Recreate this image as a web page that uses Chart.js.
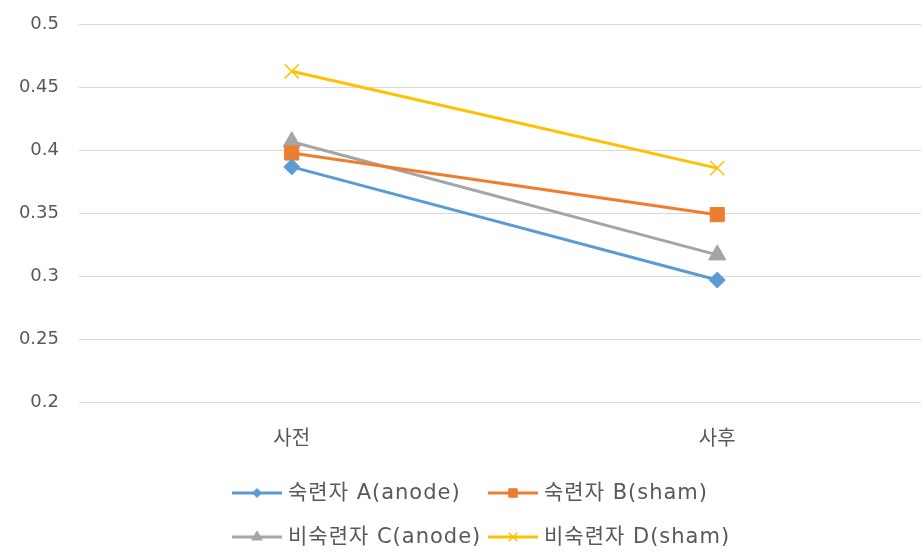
<!DOCTYPE html>
<html>
<head>
<meta charset="utf-8">
<script src="https://cdn.jsdelivr.net/npm/chart.js@4.4.0/dist/chart.umd.min.js"></script>
<style>
  html, body { margin: 0; padding: 0; background: #fff; overflow: hidden; }
  #wrap { width: 930px; height: 559px; margin-top: -6px; }
</style>
</head>
<body>
<div id="wrap"><canvas id="chart"></canvas></div>
<script>
// 측정 시점
const categories = ["사전", "사후"];

// 집단별 값
const seriesNames = ["숙련자 A(anode)", "숙련자 B(sham)", "비숙련자 C(anode)", "비숙련자 D(sham)"];
const groupA = [0.387, 0.297];
const groupB = [0.398, 0.349];
const groupC = [0.407, 0.317];
const groupD = [0.463, 0.386];

const yTicks = [0.2, 0.25, 0.3, 0.35, 0.4, 0.45, 0.5];

const FONT = "'DejaVu Sans', 'Noto Sans CJK KR', sans-serif";
const TEXT = "#595959";

const colors = ["#5b9bd5", "#ed7d31", "#a5a5a5", "#ffc000"];
const markers = ["rectRot", "rect", "triangle", "crossRot"];
const markerSize = [8, 10, 10, 10];
const legendMarkerSize = [4.5, 6, 6, 6];

function makeSet(i, values) {
  return {
    label: seriesNames[i],
    data: values,
    borderColor: colors[i],
    backgroundColor: colors[i],
    borderWidth: 3,
    pointStyle: markers[i],
    pointRadius: markerSize[i],
    pointBorderWidth: i === 3 ? 1.5 : 1,
    pointBorderColor: colors[i],
    pointBackgroundColor: colors[i],
    tension: 0
  };
}

// 범례: 두 줄, 선 + 표식
const legendPlugin = {
  id: "lineLegend",
  beforeDraw(chart) {
    chart.ctx.letterSpacing = "0px";
  },
  afterDraw(chart) {
    const ctx = chart.ctx;
    const cols = [232, 488];
    const rows = [499, 543];
    ctx.save();
    ctx.font = "21px " + FONT;
    ctx.letterSpacing = "1px";
    ctx.textBaseline = "middle";
    chart.data.datasets.forEach((ds, i) => {
      const x = cols[i % 2];
      const y = rows[Math.floor(i / 2)];
      ctx.strokeStyle = ds.borderColor;
      ctx.fillStyle = ds.backgroundColor;
      ctx.lineWidth = 3;
      ctx.beginPath();
      ctx.moveTo(x, y);
      ctx.lineTo(x + 50, y);
      ctx.stroke();
      ctx.lineWidth = ds.pointBorderWidth;
      Chart.helpers.drawPoint(ctx, {
        pointStyle: ds.pointStyle,
        radius: legendMarkerSize[i],
        borderWidth: ds.pointBorderWidth
      }, x + 25, y);
      ctx.fillStyle = TEXT;
      ctx.fillText(ds.label, x + 56, y + 1);
    });
    ctx.letterSpacing = "0px";
    ctx.restore();
  }
};

new Chart(document.getElementById("chart"), {
  type: "line",
  data: {
    labels: categories,
    datasets: [groupA, groupB, groupC, groupD].map((v, i) => makeSet(i, v))
  },
  options: {
    responsive: true,
    maintainAspectRatio: false,
    animation: false,
    layout: { autoPadding: false, padding: { top: 25, bottom: 0, left: 0, right: 0 } },
    plugins: {
      legend: { display: false },
      tooltip: { enabled: false }
    },
    scales: {
      x: {
        offset: true,
        grid: { display: false, drawTicks: false },
        border: { display: false },
        ticks: { color: TEXT, font: { family: FONT, size: 20 }, padding: 26 },
        afterFit: s => { s.height = 151; }
      },
      y: {
        min: yTicks[0],
        max: yTicks[yTicks.length - 1],
        afterBuildTicks: s => { s.ticks = yTicks.map(v => ({ value: v })); },
        grid: { color: "#d9d9d9", lineWidth: 1, drawTicks: false },
        border: { display: false },
        ticks: {
          color: TEXT,
          font: { family: FONT, size: 18 },
          padding: 20,
          callback: v => String(Math.round(v * 100) / 100)
        },
        afterFit: s => { s.width = 79; }
      }
    }
  },
  plugins: [legendPlugin]
});
</script>
</body>
</html>
